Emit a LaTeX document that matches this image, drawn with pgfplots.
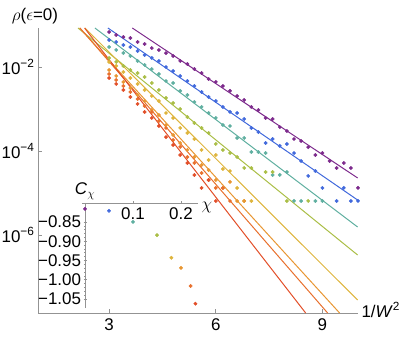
\documentclass[border=0pt]{standalone}
\usepackage{pgfplots}
\pgfplotsset{compat=1.18}
\usepackage{fontspec}
\setmainfont{Liberation Sans}
\definecolor{cP}{RGB}{125,42,140}
\definecolor{cB}{RGB}{65,105,220}
\definecolor{cT}{RGB}{95,175,160}
\definecolor{cG}{RGB}{170,190,70}
\definecolor{cY}{RGB}{222,180,60}
\definecolor{cO}{RGB}{232,150,50}
\definecolor{cR}{RGB}{232,112,45}
\definecolor{cD}{RGB}{226,78,40}
\pgfplotsset{dots/.style={only marks, mark=*, mark size=1.7bp, mark options={draw=none, fill=#1}, color=#1},
  fit/.style={#1, line width=1bp, no marks}}
\begin{document}
\begin{tikzpicture}[font=\fontsize{17}{19}\selectfont]
\begin{axis}[name=ax, at={(0,0)}, anchor=south west, scale only axis, width=320bp, height=285bp,
  xmin=1, xmax=10, ymode=log, ymin=1.389e-8, ymax=8.48e-2,
  axis x line=bottom, axis y line=left, axis line style={-, draw=gray!85, line width=0.9bp},
  xtick={3,6,9}, xticklabels={3,6,9}, ytick={1e-2,1e-4,1e-6},
  yticklabels={10\textsuperscript{−2},10\textsuperscript{−4},10\textsuperscript{−6}},
  yminorticks=false, xminorticks=false,
  tick style={draw=gray!85, line width=0.7bp}, major tick length=4bp, tick align=inside,
  tick label style={font=\fontsize{17}{19}\selectfont},
  xticklabel style={yshift=-2bp},
  xlabel={1/\textit{W}\textsuperscript{2}},
  every axis x label/.style={at={(axis description cs:1,0)}, anchor=west, xshift=0bp, yshift=3bp, font=\fontsize{17}{19}\selectfont},
  ylabel={$\rho$($\epsilon$=0)},
  every axis y label/.style={at={(axis description cs:0,1)}, anchor=south, xshift=-3bp, yshift=0bp, font=\fontsize{17}{19}\selectfont},
]
\addplot[fit=cP] coordinates {(3.652,8.48e-2)(9.989,2.28e-5)};
\addplot[fit=cB] coordinates {(2.966,8.48e-2)(9.989,6.81e-6)};
\addplot[fit=cT] coordinates {(2.601,8.48e-2)(9.989,1.55e-6)};
\addplot[fit=cG] coordinates {(2.124,8.48e-2)(9.989,3.34e-7)};
\addplot[fit=cY] coordinates {(2.32,8.48e-2)(9.989,2.83e-8)};
\addplot[fit=cO] coordinates {(2.17,8.48e-2)(9.483,1.389e-8)};
\addplot[fit=cR] coordinates {(2.18,8.48e-2)(9.146,1.389e-8)};
\addplot[fit=cD] coordinates {(2.31,8.48e-2)(8.528,1.389e-8)};
\addplot[dots=cP] coordinates {(3.0,6.81e-2)(3.2,5.78e-2)(3.4,5.18e-2)(3.6,4.90e-2)(3.8,3.94e-2)(4.0,3.53e-2)(4.2,2.83e-2)(4.4,2.54e-2)(4.6,2.15e-2)(4.8,1.83e-2)(5.0,1.39e-2)(5.2,1.18e-2)(5.4,8.95e-3)(5.6,7.19e-3)(5.8,5.18e-3)(6.0,4.40e-3)(6.2,3.53e-3)(6.4,2.69e-3)(6.6,2.04e-3)(6.8,1.64e-3)(7.0,1.12e-3)(7.2,9.46e-4)(7.4,6.11e-4)(7.6,5.78e-4)(7.8,3.72e-4)(8.0,2.99e-4)(8.2,1.93e-4)(8.4,1.73e-4)(8.6,1.24e-4)(8.8,8.04e-5)(9.0,8.95e-5)(9.2,5.78e-5)(9.4,3.94e-5)(9.6,5.18e-5)(9.8,3.94e-5)(10.0,1.32e-5)};
\addplot[dots=cB] coordinates {(3.0,4.40e-2)(3.2,3.94e-2)(3.4,3.34e-2)(3.6,2.99e-2)(3.8,2.40e-2)(4.0,1.93e-2)(4.2,1.64e-2)(4.4,1.39e-2)(4.6,1.00e-2)(4.8,8.04e-3)(5.0,6.11e-3)(5.2,4.64e-3)(5.4,3.53e-3)(5.6,2.54e-3)(5.8,1.93e-3)(6.0,1.55e-3)(6.2,1.12e-3)(6.4,8.49e-4)(6.6,8.04e-4)(6.8,5.78e-4)(7.0,3.53e-4)(7.2,2.83e-4)(7.4,1.55e-4)(7.6,1.93e-4)(7.8,1.32e-4)(8.0,1.47e-4)(8.2,8.95e-5)(8.4,5.78e-5)(8.6,2.54e-5)(8.8,3.34e-5)(9.0,1.32e-5)(9.4,6.46e-6)(9.6,1.32e-5)(9.8,6.46e-6)(10.0,6.46e-6)};
\addplot[dots=cT] coordinates {(3.0,2.99e-2)(3.2,2.54e-2)(3.4,2.15e-2)(3.6,1.83e-2)(3.8,1.39e-2)(4.0,1.12e-2)(4.2,8.95e-3)(4.4,6.81e-3)(4.6,4.64e-3)(4.8,4.16e-3)(5.0,2.69e-3)(5.2,2.15e-3)(5.4,1.47e-3)(5.6,1.12e-3)(5.8,8.04e-4)(6.0,6.11e-4)(6.2,4.16e-4)(6.4,3.94e-4)(6.6,2.04e-4)(6.8,2.04e-4)(7.0,9.46e-5)(7.2,9.46e-5)(7.4,8.95e-5)(7.6,2.69e-5)(7.8,2.69e-5)(8.0,3.16e-5)(8.2,6.46e-6)(8.4,6.46e-6)(8.8,6.46e-6)(9.0,6.46e-6)};
\addplot[dots=cG] coordinates {(3.0,1.64e-2)(3.2,1.32e-2)(3.4,1.06e-2)(3.6,8.49e-3)(3.8,7.19e-3)(4.0,5.78e-3)(4.2,4.16e-3)(4.4,2.83e-3)(4.6,1.83e-3)(4.8,1.39e-3)(5.0,1.00e-3)(5.2,6.46e-4)(5.4,4.64e-4)(5.6,3.53e-4)(5.8,2.69e-4)(6.0,1.47e-4)(6.2,1.06e-4)(6.4,8.95e-5)(6.6,7.19e-5)(6.8,3.94e-5)(7.0,3.94e-5)(7.4,3.16e-5)(7.6,3.16e-5)(8.0,6.46e-6)(8.6,6.46e-6)};
\addplot[dots=cY] coordinates {(3.0,1.32e-2)(3.2,1.06e-2)(3.4,7.60e-3)(3.6,5.47e-3)(3.8,3.94e-3)(4.0,2.83e-3)(4.2,2.04e-3)(4.4,1.55e-3)(4.6,8.03e-4)(4.8,6.11e-4)(5.0,3.53e-4)(5.2,2.68e-4)(5.4,1.93e-4)(5.6,1.06e-4)(5.8,6.11e-5)(6.0,8.03e-5)(6.2,3.73e-5)(6.4,3.34e-5)(6.6,1.32e-5)(6.8,6.45e-6)(7.0,6.45e-6)};
\addplot[dots=cO] coordinates {(3.0,8.48e-3)(3.2,6.11e-3)(3.4,4.39e-3)(3.6,3.16e-3)(3.8,2.15e-3)(4.0,1.55e-3)(4.2,9.47e-4)(4.4,7.20e-4)(4.6,4.16e-4)(4.8,2.40e-4)(5.0,1.55e-4)(5.2,1.06e-4)(5.4,7.20e-5)(5.6,4.64e-5)(5.8,3.53e-5)(6.0,2.04e-5)(6.2,1.32e-5)(6.4,1.83e-5)(6.6,6.45e-6)(6.8,6.45e-6)};
\addplot[dots=cR] coordinates {(3.0,6.81e-3)(3.2,4.90e-3)(3.4,3.53e-3)(3.6,2.54e-3)(3.8,1.73e-3)(4.0,1.18e-3)(4.2,8.48e-4)(4.4,5.18e-4)(4.6,3.53e-4)(4.8,1.83e-4)(5.0,1.25e-4)(5.2,7.20e-5)(5.4,5.18e-5)(5.6,2.99e-5)(5.8,2.04e-5)(6.0,1.32e-5)(6.2,1.32e-5)(6.4,6.45e-6)};
\addplot[dots=cD] coordinates {(3.0,5.47e-3)(3.2,3.94e-3)(3.4,2.83e-3)(3.6,1.93e-3)(3.8,1.32e-3)(4.0,8.48e-4)(4.2,6.11e-4)(4.4,3.94e-4)(4.6,2.15e-4)(4.8,1.39e-4)(5.0,8.03e-5)(5.2,5.18e-5)(5.4,2.68e-5)(5.6,1.32e-5)(5.8,2.04e-5)(6.0,6.45e-6)};
\end{axis}
\begin{axis}[name=ins, at={(44bp,5bp)}, anchor=south west, scale only axis, width=116bp, height=105bp,
  xmin=-0.00625, xmax=0.2354, ymin=-1.0733, ymax=-0.8008,
  axis x line=top, axis y line=middle, axis line style={-, draw=gray!85, line width=0.9bp},
  every inner x axis line/.append style={-}, every inner y axis line/.append style={-},
  every outer x axis line/.append style={-}, every outer y axis line/.append style={-},
  xtick={0.1,0.2}, xticklabels={0.1,0.2},
  ytick={-0.85,-0.90,-0.95,-1.00,-1.05}, yticklabels={−0.85,−0.90,−0.95,−1.00,−1.05},
  minor y tick num=4, xminorticks=false,
  tick style={draw=gray!85, line width=0.6bp}, major tick length=3bp, minor tick length=1.5bp,
  tick label style={font=\fontsize{17}{19}\selectfont},
  xticklabel style={anchor=north, yshift=-3bp},
  yticklabel style={anchor=east, xshift=1bp},
  xlabel={$\chi$}, ylabel={\textit{C}$_\chi$},
  every axis x label/.style={at={(axis description cs:1,1)}, anchor=west, xshift=0bp, yshift=-4bp, font=\fontsize{17}{19}\selectfont},
  every axis y label/.style={at={(axis description cs:0.026,1)}, anchor=south, yshift=0bp, font=\fontsize{17}{19}\selectfont},
  clip=false,
]
\addplot[dots=cP] coordinates {(0,-0.816)};
\addplot[dots=cB] coordinates {(0.05,-0.821)};
\addplot[dots=cT] coordinates {(0.10,-0.850)};
\addplot[dots=cG] coordinates {(0.15,-0.884)};
\addplot[dots=cY] coordinates {(0.18,-0.943)};
\addplot[dots=cO] coordinates {(0.20,-0.969)};
\addplot[dots=cR] coordinates {(0.22,-1.016)};
\addplot[dots=cD] coordinates {(0.23,-1.062)};
\end{axis}
\pgfresetboundingbox
\path ([xshift=-38bp,yshift=-25bp]ax.south west) rectangle ([xshift=49bp,yshift=28bp]ax.north east);
\end{tikzpicture}
\end{document}
